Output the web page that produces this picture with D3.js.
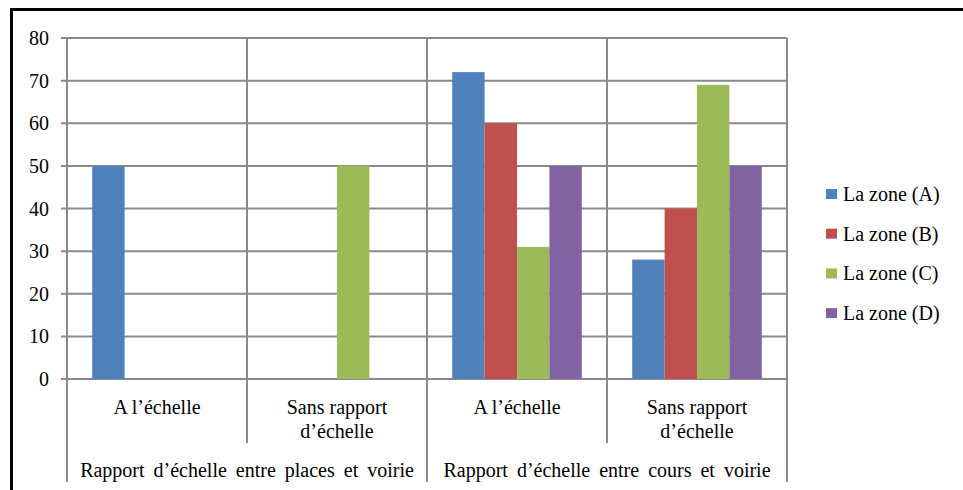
<!DOCTYPE html>
<html>
<head>
<meta charset="utf-8">
<script src="https://cdn.jsdelivr.net/npm/d3@7/dist/d3.min.js"></script>
<style>
  html, body { margin: 0; padding: 0; background: #fff; }
  svg { display: block; }
</style>
</head>
<body>
<svg id="chart" width="963" height="490" font-family="'Times New Roman', 'Liberation Serif', 'DejaVu Serif', serif"></svg>
<script>
// Sub-category labels (lower level of the x axis), split on "\n" into lines
const subCategories = [
  "A l’échelle",
  "Sans rapport\nd’échelle",
  "A l’échelle",
  "Sans rapport\nd’échelle"
];
// Group labels (upper level of the x axis); each spans two sub-categories
const groups = [
  "Rapport d’échelle entre places et voirie",
  "Rapport d’échelle entre cours et voirie"
];
const seriesNames = ["La zone (A)", "La zone (B)", "La zone (C)", "La zone (D)"];
const zoneA = [50, null, 72, 28];
const zoneB = [null, null, 60, 40];
const zoneC = [null, 50, 31, 69];
const zoneD = [null, null, 50, 50];
const yTicks = [0, 10, 20, 30, 40, 50, 60, 70, 80];

const seriesValues = [zoneA, zoneB, zoneC, zoneD];
const colors = ["#4F81BD", "#C0504D", "#9BBB59", "#8064A2"];

const svg = d3.select("#chart");
const plot = { left: 67, right: 787, top: 38, bottom: 379 };
const gridColor = "#8a8a8a";
const fontSize = "20px";

// Outer frame (top and left edges)
svg.append("line").attr("x1", 10).attr("x2", 963).attr("y1", 9.5).attr("y2", 9.5)
  .attr("stroke", "#000").attr("stroke-width", 3);
svg.append("line").attr("x1", 11.5).attr("x2", 11.5).attr("y1", 8).attr("y2", 490)
  .attr("stroke", "#000").attr("stroke-width", 3);

const catIdx = d3.range(subCategories.length);
const x = d3.scaleBand().domain(catIdx).range([plot.left, plot.right]).paddingInner(0).paddingOuter(0);
const xInner = d3.scaleBand().domain(d3.range(seriesNames.length))
  .range([0, x.bandwidth()]).paddingInner(0).paddingOuter(0.778);
const y = d3.scaleLinear().domain([0, 80]).range([plot.bottom, plot.top]);

// Horizontal gridlines with short ticks to the left
svg.append("g").selectAll("line").data(yTicks).join("line")
  .attr("x1", plot.left - 6).attr("x2", plot.right)
  .attr("y1", d => y(d)).attr("y2", d => y(d))
  .attr("stroke", gridColor).attr("stroke-width", 2);

// Vertical gridlines at category boundaries
const boundaries = catIdx.map(i => x(i)).concat([plot.right]);
svg.append("g").selectAll("line").data(boundaries).join("line")
  .attr("x1", d => d).attr("x2", d => d)
  .attr("y1", plot.top).attr("y2", plot.bottom)
  .attr("stroke", gridColor).attr("stroke-width", 2);

// Y axis labels
svg.append("g").selectAll("text").data(yTicks).join("text")
  .attr("x", 49).attr("y", d => y(d)).attr("dy", "0.35em")
  .attr("text-anchor", "end").style("font-size", fontSize)
  .text(d => d);

// Bars
const bars = svg.append("g");
seriesValues.forEach((vals, s) => {
  bars.selectAll(null).data(vals.map((v, i) => ({ v, i }))).join("rect")
    .filter(d => d.v != null)
    .attr("x", d => x(d.i) + xInner(s))
    .attr("width", xInner.bandwidth())
    .attr("y", d => y(d.v))
    .attr("height", d => y(0) - y(d.v))
    .attr("fill", colors[s]);
});

// X axis: separators and two-level labels
const axisG = svg.append("g");
boundaries.forEach((bx, k) => {
  const isGroupEdge = (k % 2 === 0);
  axisG.append("line")
    .attr("x1", bx).attr("x2", bx)
    .attr("y1", plot.bottom).attr("y2", isGroupEdge ? 482 : 443)
    .attr("stroke", gridColor).attr("stroke-width", 2);
});
catIdx.forEach(i => {
  const lines = subCategories[i].split("\n");
  const t = axisG.append("text")
    .attr("x", x(i) + x.bandwidth() / 2).attr("y", 414)
    .attr("text-anchor", "middle").style("font-size", fontSize);
  lines.forEach((ln, j) => {
    t.append("tspan").attr("x", x(i) + x.bandwidth() / 2)
      .attr("dy", j === 0 ? 0 : 24).text(ln);
  });
});
groups.forEach((g, gi) => {
  const cx = (x(gi * 2) + x(gi * 2 + 1) + x.bandwidth()) / 2;
  axisG.append("text")
    .attr("x", cx).attr("y", 477)
    .attr("text-anchor", "middle").style("font-size", fontSize)
    .style("word-spacing", "4px")
    .text(g);
});

// Legend
const legend = svg.append("g").attr("transform", "translate(826,0)");
seriesNames.forEach((name, s) => {
  const cy = 194 + s * 39.7;
  legend.append("rect").attr("x", 0).attr("y", cy - 5).attr("width", 11).attr("height", 10)
    .attr("fill", colors[s]);
  legend.append("text").attr("x", 17).attr("y", cy).attr("dy", "0.35em")
    .style("font-size", fontSize).text(name);
});
</script>
</body>
</html>
